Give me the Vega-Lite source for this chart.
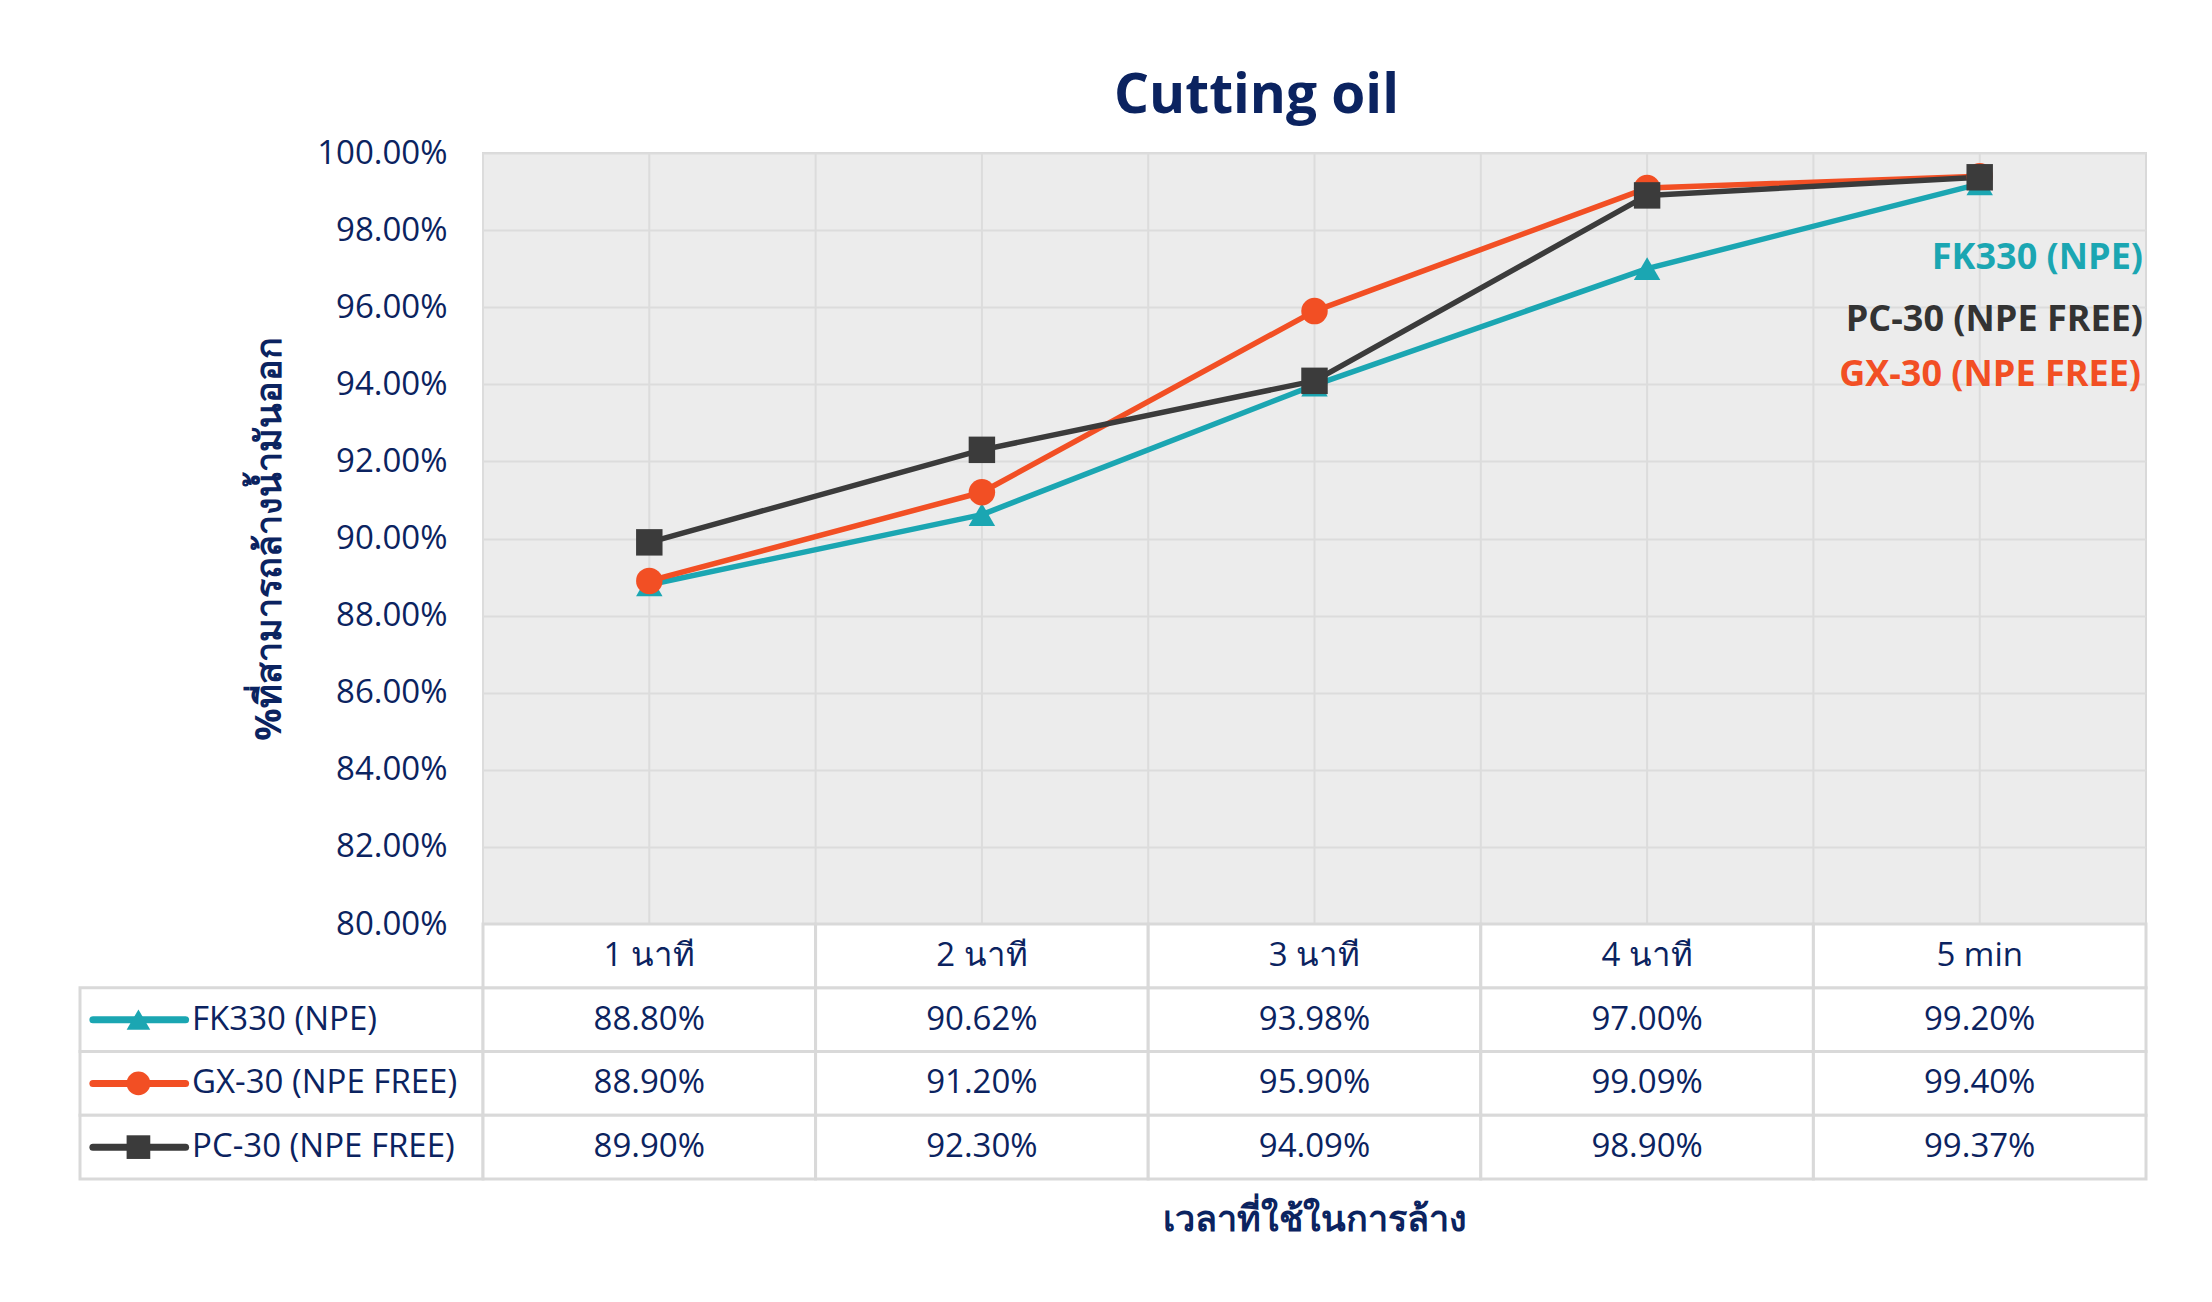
{
  "$schema": "https://vega.github.io/schema/vega-lite/v6.json",
  "background": "white",
  "autosize": {"type": "pad"},
  "padding": {"left": 78, "top": 68, "right": 64, "bottom": 40},
  "config": {
    "view": {"stroke": null},
    "font": "Open Sans",
    "text": {"font": "Open Sans", "color": "#0b2360"},
    "axis": {"labelFont": "Open Sans", "titleFont": "Open Sans"}
  },
  "datasets": {
    "results": [
      {"product": "FK330 (NPE)", "time": "1 นาที", "value": 0.888},
      {"product": "FK330 (NPE)", "time": "2 นาที", "value": 0.9062},
      {"product": "FK330 (NPE)", "time": "3 นาที", "value": 0.9398},
      {"product": "FK330 (NPE)", "time": "4 นาที", "value": 0.97},
      {"product": "FK330 (NPE)", "time": "5 min", "value": 0.992},
      {"product": "GX-30 (NPE FREE)", "time": "1 นาที", "value": 0.889},
      {"product": "GX-30 (NPE FREE)", "time": "2 นาที", "value": 0.912},
      {"product": "GX-30 (NPE FREE)", "time": "3 นาที", "value": 0.959},
      {"product": "GX-30 (NPE FREE)", "time": "4 นาที", "value": 0.9909},
      {"product": "GX-30 (NPE FREE)", "time": "5 min", "value": 0.994},
      {"product": "PC-30 (NPE FREE)", "time": "1 นาที", "value": 0.899},
      {"product": "PC-30 (NPE FREE)", "time": "2 นาที", "value": 0.923},
      {"product": "PC-30 (NPE FREE)", "time": "3 นาที", "value": 0.9409},
      {"product": "PC-30 (NPE FREE)", "time": "4 นาที", "value": 0.989},
      {"product": "PC-30 (NPE FREE)", "time": "5 min", "value": 0.9937}
    ],
    "times": [
      {"time": "1 นาที"}, {"time": "2 นาที"}, {"time": "3 นาที"}, {"time": "4 นาที"}, {"time": "5 min"}
    ],
    "products": [
      {"product": "FK330 (NPE)"}, {"product": "GX-30 (NPE FREE)"}, {"product": "PC-30 (NPE FREE)"}
    ]
  },
  "columns": 2,
  "spacing": 0,
  "bounds": "flush",
  "concat": [
    {
      "width": 403,
      "height": 771,
      "data": {"values": [{}]},
      "mark": {"type": "point", "opacity": 0},
      "encoding": {}
    },
    {
      "width": 1663,
      "height": 771,
      "view": {"fill": "#ececec", "stroke": "#d9d9d9", "strokeWidth": 2},
      "title": {"text": "Cutting oil", "fontSize": 55, "fontWeight": "bold", "color": "#0b2360", "font": "Open Sans", "anchor": "middle", "dx": -58, "offset": 12},
      "layer": [
        {
          "data": {"name": "times"},
          "mark": {"type": "rule", "color": "#dcdcdc", "strokeWidth": 2},
          "encoding": {"x": {"field": "time", "type": "ordinal", "bandPosition": 0, "scale": {"type": "band", "domain": ["1 นาที", "2 นาที", "3 นาที", "4 นาที", "5 min"], "paddingInner": 0, "paddingOuter": 0}, "axis": null}}
        },
        {
          "data": {"name": "times"},
          "mark": {"type": "rule", "color": "#dcdcdc", "strokeWidth": 2},
          "encoding": {"x": {"field": "time", "type": "ordinal", "bandPosition": 0.5, "scale": {"type": "band", "domain": ["1 นาที", "2 นาที", "3 นาที", "4 นาที", "5 min"], "paddingInner": 0, "paddingOuter": 0}, "axis": null}}
        },
        {
          "data": {"name": "results"},
          "mark": {"type": "line", "strokeWidth": 5.5, "strokeJoin": "round"},
          "encoding": {
            "x": {"field": "time", "type": "ordinal", "scale": {"type": "band", "domain": ["1 นาที", "2 นาที", "3 นาที", "4 นาที", "5 min"], "paddingInner": 0, "paddingOuter": 0}, "axis": null},
            "y": {"field": "value", "type": "quantitative", "scale": {"domain": [0.8, 1.0], "nice": false, "zero": false},
              "axis": {"values": [0.8, 0.82, 0.84, 0.86, 0.88, 0.9, 0.92, 0.94, 0.96, 0.98, 1.0], "format": ".2%", "grid": true, "gridColor": "#dcdcdc", "gridWidth": 2, "domain": false, "ticks": false, "labelFontSize": 33, "labelColor": "#0b2360", "labelPadding": 36, "title": "%ที่สามารถล้างน้ำมันออก", "titleFontSize": 36, "titleFontWeight": "bold", "titleColor": "#0b2360", "titlePadding": 28}},
            "color": {"field": "product", "type": "nominal", "scale": {"domain": ["FK330 (NPE)", "GX-30 (NPE FREE)", "PC-30 (NPE FREE)"], "range": ["#1ba6b2", "#f24f24", "#3b3b3b"]}, "legend": null}
          }
        },
        {
          "data": {"name": "results"},
          "mark": {"type": "point", "filled": true, "opacity": 1, "size": 700},
          "encoding": {
            "x": {"field": "time", "type": "ordinal", "scale": {"type": "band", "domain": ["1 นาที", "2 นาที", "3 นาที", "4 นาที", "5 min"], "paddingInner": 0, "paddingOuter": 0}, "axis": null},
            "y": {"field": "value", "type": "quantitative"},
            "color": {"field": "product", "type": "nominal", "legend": null},
            "shape": {"field": "product", "type": "nominal", "scale": {"domain": ["FK330 (NPE)", "GX-30 (NPE FREE)", "PC-30 (NPE FREE)"], "range": ["triangle-up", "circle", "square"]}, "legend": null}
          }
        },
        {
          "data": {"values": [{}]},
          "mark": {"type": "text", "text": "FK330 (NPE)", "align": "right", "baseline": "middle", "fontSize": 36, "fontWeight": "bold", "color": "#1ba6b2", "dx": -3},
          "encoding": {"x": {"value": "width"}, "y": {"datum": 0.9728, "type": "quantitative"}}
        },
        {
          "data": {"values": [{}]},
          "mark": {"type": "text", "text": "PC-30 (NPE FREE)", "align": "right", "baseline": "middle", "fontSize": 36, "fontWeight": "bold", "color": "#333333", "dx": -3},
          "encoding": {"x": {"value": "width"}, "y": {"datum": 0.9567, "type": "quantitative"}}
        },
        {
          "data": {"values": [{}]},
          "mark": {"type": "text", "text": "GX-30 (NPE FREE)", "align": "right", "baseline": "middle", "fontSize": 36, "fontWeight": "bold", "color": "#f24f24", "dx": -5},
          "encoding": {"x": {"value": "width"}, "y": {"datum": 0.9425, "type": "quantitative"}}
        }
      ]
    },
    {
      "width": 403,
      "height": 255,
      "data": {"name": "products"},
      "encoding": {
        "y": {"field": "product", "type": "nominal", "scale": {"domain": ["header", "FK330 (NPE)", "GX-30 (NPE FREE)", "PC-30 (NPE FREE)"], "paddingInner": 0, "paddingOuter": 0}, "axis": null}
      },
      "layer": [
        {
          "mark": {"type": "rect", "fill": "white", "stroke": "#d9d9d9", "strokeWidth": 3},
          "encoding": {"x": {"datum": 0, "type": "quantitative", "scale": {"domain": [0, 1], "nice": false, "zero": false}, "axis": null}, "x2": {"datum": 1}}
        },
        {
          "mark": {"type": "rule", "strokeWidth": 7, "strokeCap": "round"},
          "encoding": {
            "x": {"datum": 0.032, "type": "quantitative"}, "x2": {"datum": 0.262},
            "color": {"field": "product", "type": "nominal", "scale": {"domain": ["FK330 (NPE)", "GX-30 (NPE FREE)", "PC-30 (NPE FREE)"], "range": ["#1ba6b2", "#f24f24", "#3b3b3b"]}, "legend": null}
          }
        },
        {
          "mark": {"type": "point", "filled": true, "opacity": 1, "size": 560},
          "encoding": {
            "x": {"datum": 0.145, "type": "quantitative"},
            "color": {"field": "product", "type": "nominal", "scale": {"domain": ["FK330 (NPE)", "GX-30 (NPE FREE)", "PC-30 (NPE FREE)"], "range": ["#1ba6b2", "#f24f24", "#3b3b3b"]}, "legend": null},
            "shape": {"field": "product", "type": "nominal", "scale": {"domain": ["FK330 (NPE)", "GX-30 (NPE FREE)", "PC-30 (NPE FREE)"], "range": ["triangle-up", "circle", "square"]}, "legend": null}
          }
        },
        {
          "mark": {"type": "text", "align": "left", "baseline": "middle", "fontSize": 33, "color": "#0b2360"},
          "encoding": {"x": {"datum": 0.278, "type": "quantitative"}, "text": {"field": "product"}}
        }
      ]
    },
    {
      "width": 1663,
      "height": 255,
      "encoding": {
        "x": {"field": "time", "type": "ordinal", "scale": {"type": "band", "domain": ["1 นาที", "2 นาที", "3 นาที", "4 นาที", "5 min"], "paddingInner": 0, "paddingOuter": 0},
          "axis": {"title": "เวลาที่ใช้ในการล้าง", "orient": "bottom", "labels": false, "ticks": false, "domain": false, "grid": false, "titleFontSize": 36, "titleFontWeight": "bold", "titleColor": "#0b2360", "titlePadding": 23}}
      },
      "layer": [
        {
          "data": {"name": "results"},
          "mark": {"type": "rect", "fill": "white", "stroke": "#d9d9d9", "strokeWidth": 3},
          "encoding": {"y": {"field": "product", "type": "nominal", "scale": {"domain": ["header", "FK330 (NPE)", "GX-30 (NPE FREE)", "PC-30 (NPE FREE)"], "paddingInner": 0, "paddingOuter": 0}, "axis": null}}
        },
        {
          "data": {"name": "times"},
          "mark": {"type": "rect", "fill": "white", "stroke": "#d9d9d9", "strokeWidth": 3},
          "encoding": {"y": {"datum": "header", "type": "nominal", "scale": {"domain": ["header", "FK330 (NPE)", "GX-30 (NPE FREE)", "PC-30 (NPE FREE)"], "paddingInner": 0, "paddingOuter": 0}, "axis": null}}
        },
        {
          "data": {"name": "times"},
          "mark": {"type": "text", "baseline": "middle", "fontSize": 33, "color": "#0b2360"},
          "encoding": {"y": {"datum": "header", "type": "nominal", "scale": {"domain": ["header", "FK330 (NPE)", "GX-30 (NPE FREE)", "PC-30 (NPE FREE)"], "paddingInner": 0, "paddingOuter": 0}, "axis": null}, "text": {"field": "time"}}
        },
        {
          "data": {"name": "results"},
          "mark": {"type": "text", "baseline": "middle", "fontSize": 33, "color": "#0b2360"},
          "encoding": {"y": {"field": "product", "type": "nominal", "scale": {"domain": ["header", "FK330 (NPE)", "GX-30 (NPE FREE)", "PC-30 (NPE FREE)"], "paddingInner": 0, "paddingOuter": 0}, "axis": null}, "text": {"field": "value", "type": "quantitative", "format": ".2%"}}
        }
      ]
    }
  ]
}
